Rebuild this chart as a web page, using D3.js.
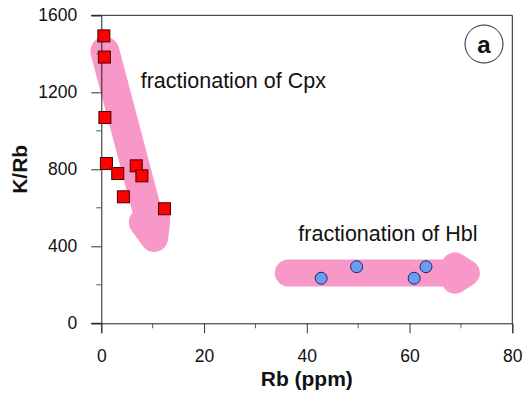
<!DOCTYPE html>
<html>
<head>
<meta charset="utf-8">
<script src="https://cdn.jsdelivr.net/npm/d3@7"></script>
<style>
  html, body { margin: 0; padding: 0; background: #fff; }
  svg { display: block; font-family: "Liberation Sans", Arial, sans-serif; }
</style>
</head>
<body>
<svg id="chart" width="524" height="393"></svg>
<script>
// Clinopyroxene-bearing samples (red squares)
const cpxRb   = [0.5, 0.6, 0.7, 1.0, 3.2, 6.8, 7.9, 4.3, 12.3];
const cpxKRb  = [1493, 1383, 1069, 830, 778, 818, 766, 657, 595];
// Hornblende-bearing samples (blue circles)
const hblRb   = [42.8, 49.7, 60.9, 63.2];
const hblKRb  = [234, 294, 234, 294];
// Axis ticks
const xTicks  = [0, 20, 40, 60, 80];
const yTicks  = [0, 400, 800, 1200, 1600];
const xMinor  = [10, 30, 50, 70];
const yMinor  = [200, 600, 1000, 1400];
// Trend arrows, from start to tip, in data units
const cpxTrend = [[0.7, 1413], [11.0, 373]];
const hblTrend = [[36.4, 261], [73.7, 261]];
const labels = ["fractionation of Cpx", "fractionation of Hbl"];

const svg = d3.select("#chart");
const margin = { left: 101.3, right: 11.7, top: 15.3, bottom: 69.7 };
const W = 524, H = 393;
const x = d3.scaleLinear().domain([0, 80]).range([margin.left, W - margin.right]);
const y = d3.scaleLinear().domain([0, 1600]).range([H - margin.bottom, margin.top]);

const pink = "#f898c8";

// Thick rounded arrow: a round-capped shaft plus a heavily rounded head
function trendArrow(pts, halfW, headHalf, headLen, r) {
  const p0 = [x(pts[0][0]), y(pts[0][1])];
  const p1 = [x(pts[1][0]), y(pts[1][1])];
  const dx = p1[0] - p0[0], dy = p1[1] - p0[1];
  const len = Math.hypot(dx, dy);
  const u = [dx / len, dy / len];
  const n = [-u[1], u[0]];
  const g = svg.append("g");
  const base = [p1[0] - u[0] * (headLen - r), p1[1] - u[1] * (headLen - r)];
  g.append("line")
    .attr("x1", p0[0]).attr("y1", p0[1])
    .attr("x2", base[0]).attr("y2", base[1])
    .attr("stroke", pink).attr("stroke-width", 2 * halfW)
    .attr("stroke-linecap", "round");
  const hi = headHalf - r;
  const tip = [p1[0] - u[0] * r, p1[1] - u[1] * r];
  const tri = [
    [base[0] + n[0] * hi, base[1] + n[1] * hi],
    tip,
    [base[0] - n[0] * hi, base[1] - n[1] * hi]
  ];
  g.append("path")
    .attr("d", d3.line()(tri) + "Z")
    .attr("fill", pink).attr("stroke", pink)
    .attr("stroke-width", 2 * r).attr("stroke-linejoin", "round");
}

trendArrow(cpxTrend, 14.5, 21, 46, 14);
trendArrow(hblTrend, 13.5, 20.7, 38, 13);

// Frame (top and right)
svg.append("path")
  .attr("d", `M${x(0)},${y(1600)}H${x(80)}V${y(0)}`)
  .attr("fill", "none").attr("stroke", "#222").attr("stroke-width", 1);

// Axes
const fmt = d3.format("d");
const xAxis = d3.axisBottom(x).tickValues(xTicks).tickFormat(fmt).tickSize(10).tickPadding(16);
const yAxis = d3.axisLeft(y).tickValues(yTicks).tickFormat(fmt).tickSize(10).tickPadding(14);

const gx = svg.append("g").attr("transform", `translate(0,${y(0)})`).call(xAxis);
const gy = svg.append("g").attr("transform", `translate(${x(0)},0)`).call(yAxis);
[gx, gy].forEach(g => {
  g.select(".domain").attr("stroke", "#222");
  g.selectAll(".tick line").attr("stroke", "#333");
  g.selectAll(".tick text")
    .attr("font-family", "Liberation Sans, Arial, sans-serif")
    .attr("font-size", 17.5).attr("fill", "#111");
});
// x axis line extends to the left tick; top frame meets the 1600 tick
svg.append("line")
  .attr("x1", x(0) - 10).attr("x2", x(0))
  .attr("y1", y(0)).attr("y2", y(0)).attr("stroke", "#222");
svg.append("line")
  .attr("x1", x(0) - 10).attr("x2", x(0))
  .attr("y1", y(1600)).attr("y2", y(1600)).attr("stroke", "#222");

// Minor ticks
svg.append("g").selectAll("line").data(xMinor).join("line")
  .attr("x1", d => x(d)).attr("x2", d => x(d))
  .attr("y1", y(0)).attr("y2", y(0) + 5).attr("stroke", "#555");
svg.append("g").selectAll("line").data(yMinor).join("line")
  .attr("x1", x(0) - 5).attr("x2", x(0))
  .attr("y1", d => y(d)).attr("y2", d => y(d)).attr("stroke", "#555");

// Axis titles
svg.append("text")
  .attr("x", (x(0) + x(80)) / 2).attr("y", 386)
  .attr("text-anchor", "middle").attr("font-weight", "bold")
  .attr("font-size", 21).attr("fill", "#111").text("Rb (ppm)");
svg.append("text")
  .attr("transform", `translate(27,${(y(0) + y(1600)) / 2}) rotate(-90)`)
  .attr("text-anchor", "middle").attr("font-weight", "bold")
  .attr("font-size", 21).attr("fill", "#111").text("K/Rb");

// Annotations
svg.append("text").attr("x", 140.7).attr("y", 88)
  .attr("font-size", 21.5).attr("fill", "#111").text(labels[0]);
svg.append("text").attr("x", 298.3).attr("y", 241)
  .attr("font-size", 21.5).attr("fill", "#111").text(labels[1]);

// Panel letter
svg.append("circle").attr("cx", 484).attr("cy", 44).attr("r", 19)
  .attr("fill", "#fff").attr("stroke", "#222").attr("stroke-width", 1);
svg.append("text").attr("x", 484).attr("y", 52.5)
  .attr("text-anchor", "middle").attr("font-weight", "bold")
  .attr("font-size", 24).attr("fill", "#111").text("a");

// Data points
const sq = 12;
svg.append("g").selectAll("rect").data(d3.zip(cpxRb, cpxKRb)).join("rect")
  .attr("x", d => x(d[0]) - sq / 2).attr("y", d => y(d[1]) - sq / 2)
  .attr("width", sq).attr("height", sq)
  .attr("fill", "#ff0000").attr("stroke", "#4a0000").attr("stroke-width", 1);
svg.append("g").selectAll("circle").data(d3.zip(hblRb, hblKRb)).join("circle")
  .attr("cx", d => x(d[0])).attr("cy", d => y(d[1])).attr("r", 6)
  .attr("fill", "#6b9bf2").attr("stroke", "#1b2a5e").attr("stroke-width", 1);
</script>
</body>
</html>
